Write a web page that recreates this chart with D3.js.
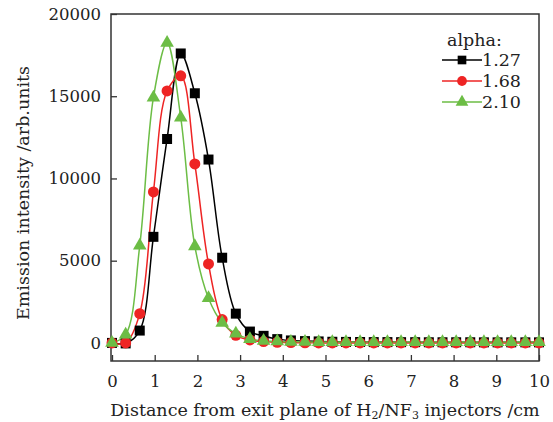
<!DOCTYPE html>
<html lang="en">
<head>
<meta charset="utf-8">
<title>Emission intensity vs distance</title>
<script src="https://cdn.jsdelivr.net/npm/d3@7"></script>
<style>
  body { margin: 0; background: #fff; }
  text { font-family: "DejaVu Serif", serif; fill: #222; }
</style>
</head>
<body>
<script>
// distance from exit plane (cm)
let distance = [0, 0.32, 0.65, 0.97, 1.29, 1.61, 1.94, 2.26, 2.58, 2.90, 3.23, 3.55,
  3.87, 4.19, 4.52, 4.84, 5.16, 5.48, 5.81, 6.13, 6.45, 6.77, 7.10, 7.42,
  7.74, 8.06, 8.39, 8.71, 9.03, 9.35, 9.68, 10];

// emission intensity for each alpha
let a127 = [0, -30, 750, 6450, 12400, 17600, 15180, 11150, 5180, 1780, 690, 430,
  230, 150, 110, 90, 70, 60, 55, 50, 50, 45, 45, 40, 40, 40, 40, 35, 35, 35, 35, 35];
let a168 = [0, 0, 1780, 9180, 15320, 16240, 10880, 4800, 1420, 460, 180, 80,
  40, 20, 10, 0, 0, 0, 0, 0, 0, 0, 0, 0, 0, 0, 0, 0, 0, 0, 0, 0];
let a210 = [0, 500, 5920, 14920, 18250, 13700, 5880, 2720, 1220, 560, 230, 130,
  90, 70, 60, 50, 50, 50, 50, 50, 50, 50, 50, 50, 50, 50, 50, 50, 50, 50, 50, 50];

let seriesNames = ["1.27", "1.68", "2.10"];
let seriesValues = [a127, a168, a210];
let xTicks = [0, 1, 2, 3, 4, 5, 6, 7, 8, 9, 10];
let yTicks = [0, 5000, 10000, 15000, 20000];

let w = 553, h = 422;
let colors = ["#000000", "#ee2424", "#6cbd45"];
let shapes = [d3.symbolSquare, d3.symbolCircle, d3.symbolTriangle];

let svg = d3.select("body").append("svg")
  .attr("width", w).attr("height", h);

let boxL = 111, boxR = 539, boxT = 14, boxB = 361;

let x = d3.scaleLinear().domain([0, 10]).range([112, 539]);
let y = d3.scaleLinear().domain([-1100, 20000]).range([boxB, boxT]);

// clip so the curves stay in the box
svg.append("clipPath").attr("id", "clip")
  .append("rect").attr("x", boxL).attr("y", boxT)
  .attr("width", boxR - boxL + 6).attr("height", boxB - boxT);

// axes (ticks inside)
let xAxis = svg.append("g").attr("transform", "translate(0," + boxB + ")")
  .call(d3.axisBottom(x).tickValues(xTicks).tickFormat(d3.format("d"))
    .tickSizeInner(-6).tickSizeOuter(0).tickPadding(14));
let yAxis = svg.append("g").attr("transform", "translate(" + boxL + ",0)")
  .call(d3.axisLeft(y).tickValues(yTicks).tickFormat(d3.format("d"))
    .tickSizeInner(-6).tickSizeOuter(0).tickPadding(10));

[xAxis, yAxis].forEach(g => {
  g.select(".domain").remove();
  g.selectAll(".tick line").attr("stroke", "#333").attr("stroke-width", 1.3);
  g.selectAll(".tick text").style("font-size", "16.5px").attr("fill", "#222");
});

// box
svg.append("rect")
  .attr("x", boxL).attr("y", boxT)
  .attr("width", boxR - boxL).attr("height", boxB - boxT)
  .attr("fill", "none").attr("stroke", "#333").attr("stroke-width", 1.5);

let line = d3.line()
  .x((d, i) => x(distance[i]))
  .y(d => y(d))
  .curve(d3.curveCatmullRom.alpha(0.5));

let plot = svg.append("g").attr("clip-path", "url(#clip)");

seriesValues.forEach((vals, k) => {
  plot.append("path")
    .datum(vals)
    .attr("d", line)
    .attr("fill", "none")
    .attr("stroke", colors[k])
    .attr("stroke-width", 1.5);
});

seriesValues.forEach((vals, k) => {
  let size = k == 0 ? 100 : (k == 1 ? 95 : 80);
  svg.append("g").selectAll("path")
    .data(vals)
    .enter()
    .append("path")
    .attr("transform", (d, i) => "translate(" + x(distance[i]) + "," + y(d) + ")")
    .attr("d", d3.symbol().type(shapes[k]).size(size))
    .attr("fill", colors[k]);
});

// legend
let lg = svg.append("g");
lg.append("text").attr("x", 447).attr("y", 46).style("font-size", "17.5px").text("alpha:");
seriesNames.forEach((name, k) => {
  let ly = 60 + k * 21;
  lg.append("line").attr("x1", 442).attr("x2", 482).attr("y1", ly).attr("y2", ly)
    .attr("stroke", colors[k]).attr("stroke-width", 1.5);
  lg.append("path").attr("transform", "translate(462," + ly + ")")
    .attr("d", d3.symbol().type(shapes[k]).size(k == 2 ? 70 : 75))
    .attr("fill", colors[k]);
  lg.append("text").attr("x", 482).attr("y", ly + 6).style("font-size", "17.5px").text(name);
});

// axis titles
let xt = svg.append("text")
  .attr("x", 325).attr("y", 416)
  .attr("text-anchor", "middle")
  .style("font-size", "17.5px");
xt.append("tspan").text("Distance from exit plane of H");
xt.append("tspan").attr("dy", 3).style("font-size", "11px").text("2");
xt.append("tspan").attr("dy", -3).text("/NF");
xt.append("tspan").attr("dy", 3).style("font-size", "11px").text("3");
xt.append("tspan").attr("dy", -3).text(" injectors /cm");

svg.append("text")
  .attr("transform", "translate(29,193) rotate(-90)")
  .attr("text-anchor", "middle")
  .style("font-size", "17.5px")
  .text("Emission intensity /arb.units");
</script>
</body>
</html>
